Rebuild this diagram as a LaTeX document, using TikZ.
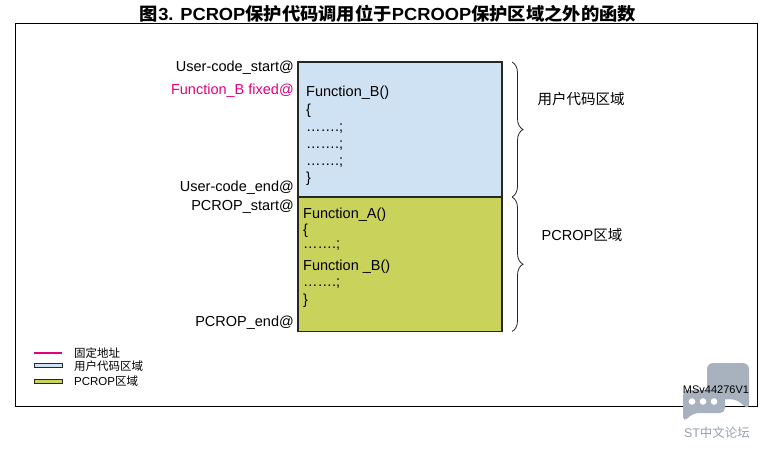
\documentclass[tikz,border=0pt]{standalone}
\usepackage{fontspec}
\usepackage{graphicx}
\setmainfont{Liberation Sans}
\newfontfamily\cjk{Noto Sans CJK SC}
\usetikzlibrary{decorations.pathreplacing}
\definecolor{userblue}{RGB}{207,226,243}
\definecolor{pcropgreen}{RGB}{201,211,92}
\definecolor{fixpink}{RGB}{228,0,124}
\definecolor{wmgray}{RGB}{168,178,191}
\definecolor{wmtext}{RGB}{150,160,172}
\newcommand{\zhtext}[1]{{\cjk #1}}
\begin{document}
\begin{tikzpicture}[x=1pt,y=-1pt,
  lbl/.style={anchor=base east, inner sep=0pt, font=\fontsize{14.5}{17}\selectfont},
  codeline/.style={anchor=base west, inner sep=0pt, font=\fontsize{14.5}{17}\selectfont},
  regionlbl/.style={anchor=center, inner sep=0pt, font=\fontsize{14.5}{17}\selectfont},
  legendtxt/.style={anchor=west, inner sep=0pt, font=\fontsize{11.5}{13}\selectfont},
  membox/.style={draw=black!85, line width=1.2pt},
  legbox/.style={draw=black!85, line width=1pt},
  bracestyle/.style={decorate, decoration={brace, amplitude=11pt}, line width=0.8pt, draw=black!85},
  frame/.style={draw=black, line width=1pt}
]
\useasboundingbox (0,0) rectangle (762,448);
% title
\node[anchor=center, inner sep=0pt] (title) at (388,13.5)
  {\resizebox{496pt}{\height}{\fontsize{17.5}{20}\selectfont\bfseries\zhtext{图}3. PCROP\zhtext{保护代码调用位于}PCROOP\zhtext{保护区域之外的函数}}};
% frame
\draw[frame] (15,23) rectangle (757,406);
% memory regions
\draw[membox, fill=userblue] (298,62) rectangle (502,197);
\draw[membox, fill=pcropgreen] (298,197) rectangle (502,331.5);
% address labels
\node[lbl] (ucs) at (294,71) {User-code\_start@};
\node[lbl, text=fixpink] (fbf) at (294,94) {Function\_B fixed@};
\node[lbl] (uce) at (294,191) {User-code\_end@};
\node[lbl] (pcs) at (294,210) {PCROP\_start@};
\node[lbl] (pce) at (294,326) {PCROP\_end@};
% code in user area
\node[codeline] (b1) at (306,96) {Function\_B()};
\node[codeline] (b2) at (306,114) {\{};
\node[codeline] (b3) at (306,131.5) {…….;};
\node[codeline] (b4) at (306,148) {…….;};
\node[codeline] (b5) at (306,165) {…….;};
\node[codeline] (b6) at (306,182) {\}};
% code in PCROP area
\node[codeline] (a1) at (303,218) {Function\_A()};
\node[codeline] (a2) at (303,234) {\{};
\node[codeline] (a3) at (303,248) {…….;};
\node[codeline] (a4) at (303,270) {Function \_B()};
\node[codeline] (a5) at (303,286) {…….;};
\node[codeline] (a6) at (303,304) {\}};
% braces
\coordinate (br1s) at (512,62);
\coordinate (br1e) at (512,197);
\coordinate (br2s) at (512,197);
\coordinate (br2e) at (512,331.5);
\draw[bracestyle] (br1s) -- (br1e);
\draw[bracestyle] (br2s) -- (br2e);
\node[regionlbl] (ur) at (581,99) {\zhtext{用户代码区域}};
\node[regionlbl] (pr) at (582,235) {PCROP\zhtext{区域}};
% legend
\coordinate (lp1) at (34,353);
\coordinate (lp2) at (62,353);
\draw[fixpink, line width=1.6pt] (lp1) -- (lp2);
\draw[legbox, fill=userblue] (34,363) rectangle (62,367);
\draw[legbox, fill=pcropgreen] (34,379) rectangle (62,383);
\node[legendtxt] (l1) at (74,352.7) {\zhtext{固定地址}};
\node[legendtxt] (l2) at (74,366) {\zhtext{用户代码区域}};
\node[legendtxt] (l3) at (74,380.7) {PCROP\zhtext{区域}};
% watermark
\fill[wmgray, rounded corners=6pt] (707,400) -- (707,363) -- (749,363) -- (749,410) -- (736,399) -- cycle;
\fill[wmgray, rounded corners=5pt] (683,422) -- (683,390) -- (725,390) -- (725,413) -- (694,413) -- cycle;
\fill[white] (692,401.5) circle (3.3) (703,401.5) circle (3.3) (714,401.5) circle (3.3);
\node[anchor=center, inner sep=0pt, text=wmtext, font=\fontsize{12.5}{14}\selectfont] (wm) at (717,433) {ST\zhtext{中文论坛}};
% id
\node[anchor=center, inner sep=0pt, font=\fontsize{11}{13}\selectfont] (msid) at (716,390) {MSv44276V1};
\end{tikzpicture}
\end{document}
